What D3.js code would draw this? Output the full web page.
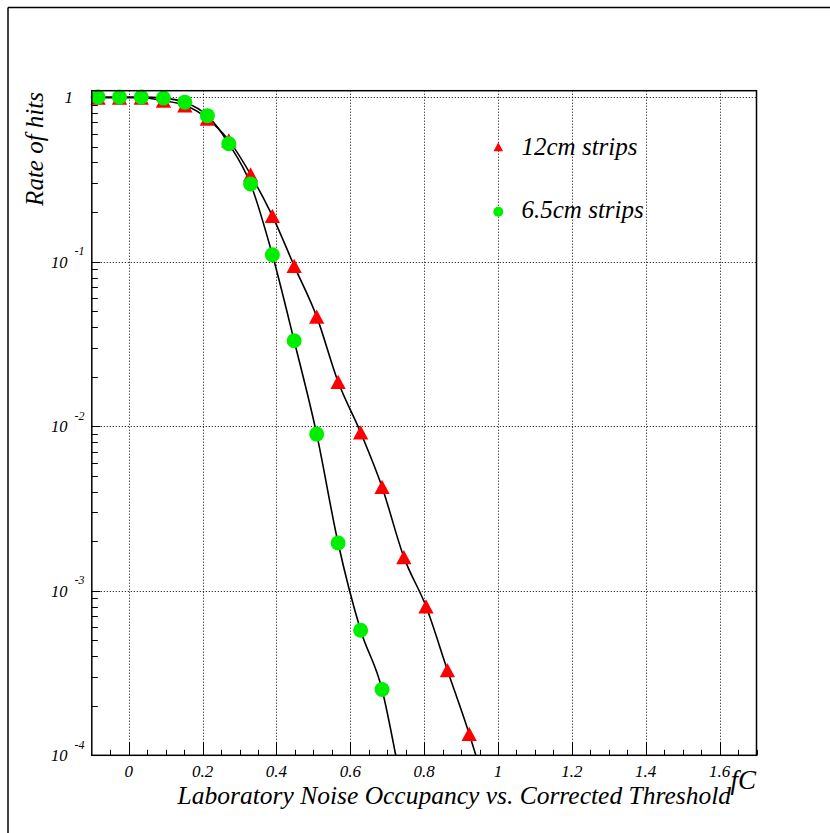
<!DOCTYPE html>
<html>
<head>
<meta charset="utf-8">
<script src="https://cdn.jsdelivr.net/npm/d3@7"></script>
<style>
  html, body { margin: 0; padding: 0; background: #fff; }
  svg { display: block; }
  text { font-family: "Liberation Serif", "DejaVu Serif", serif; font-style: italic; fill: #000; }
</style>
</head>
<body>
<svg id="chart" width="830" height="833"></svg>
<script>
// ---- data ----
const thresholds12 = [-0.083, -0.025, 0.034, 0.094, 0.152, 0.213, 0.271, 0.330, 0.389, 0.448, 0.509, 0.567, 0.628, 0.686, 0.745, 0.805, 0.863, 0.922];
const rate12 = [0.99, 0.99, 0.99, 0.95, 0.89, 0.74, 0.545, 0.338, 0.1895, 0.0942, 0.0463, 0.0186, 0.00916, 0.00427, 0.0016, 0.000804, 0.000329, 0.000135];
const thresholds65 = [-0.083, -0.025, 0.034, 0.094, 0.152, 0.213, 0.271, 0.330, 0.389, 0.448, 0.509, 0.567, 0.628, 0.686];
const rate65 = [1.0, 1.0, 1.0, 0.985, 0.93, 0.77, 0.52, 0.296, 0.110, 0.033, 0.00895, 0.00195, 0.000575, 0.000251];
// fit curve end points (where the drawn curves leave the frame)
const fitStart12 = [-0.1, 1.0], fitEnd12 = [0.940, 1e-4];
const fitStart65 = [-0.1, 1.0], fitEnd65 = [0.723, 1e-4];
const seriesNames = ["12cm strips", "6.5cm strips"];
const xTickValues = [0, 0.2, 0.4, 0.6, 0.8, 1, 1.2, 1.4, 1.6];
const xTickLabels = ["0", "0.2", "0.4", "0.6", "0.8", "1", "1.2", "1.4", "1.6"];
const yDecades = [1, 1e-1, 1e-2, 1e-3, 1e-4];
const yExponents = ["", "-1", "-2", "-3", "-4"];
const xTitle = "Laboratory Noise Occupancy vs. Corrected Threshold";
const xUnit = "fC";
const yTitle = "Rate of hits";

// ---- layout ----
const L = 91.8, R = 756.5, T = 90.7, B = 755.3;
const svg = d3.select("#chart");
const x = d3.scaleLinear().domain([-0.1, 1.7]).range([L, R]);
const y = d3.scaleLog().domain([1e-4, 1.092]).range([B, T]);

// canvas border (top & left visible)
svg.append("line").attr("x1", 8).attr("x2", 830).attr("y1", 7.5).attr("y2", 7.5).attr("stroke", "#000").attr("stroke-width", 1.5);
svg.append("line").attr("x1", 8).attr("x2", 8).attr("y1", 7.5).attr("y2", 833).attr("stroke", "#000").attr("stroke-width", 1.5);

// grid
const grid = svg.append("g").attr("stroke", "#000").attr("stroke-width", 1).attr("stroke-dasharray", "1,2");
xTickValues.forEach(v => {
  grid.append("line").attr("x1", Math.round(x(v)) + 0.5).attr("x2", Math.round(x(v)) + 0.5).attr("y1", T).attr("y2", B);
});
yDecades.slice(0, 4).forEach(v => {
  grid.append("line").attr("x1", L).attr("x2", R).attr("y1", Math.round(y(v)) + 0.5).attr("y2", Math.round(y(v)) + 0.5);
});

// x ticks (inside, upward)
const ticksG = svg.append("g").attr("stroke", "#000").attr("stroke-width", 1);
const xMinor = d3.range(-0.05, 1.70001, 0.05);
xMinor.forEach(v => {
  const isMajor = xTickValues.some(t => Math.abs(t - v) < 1e-6);
  const px = Math.round(x(v)) + 0.5;
  ticksG.append("line").attr("x1", px).attr("x2", px).attr("y1", B).attr("y2", B - (isMajor ? 12.7 : 5.5));
});
// y ticks (inside, rightward)
yDecades.slice(1).forEach(d => {
  for (let k = 2; k <= 9; k++) {
    const v = d * k;
    if (v > 1.092) continue;
    const py = Math.round(y(v)) + 0.5;
    ticksG.append("line").attr("x1", L).attr("x2", L + 6).attr("y1", py).attr("y2", py);
  }
});
yDecades.forEach(v => {
  const py = Math.round(y(v)) + 0.5;
  ticksG.append("line").attr("x1", L).attr("x2", L + 8.5).attr("y1", py).attr("y2", py);
});

// curves
const line = d3.line().x(d => x(d[0])).y(d => y(d[1])).curve(d3.curveMonotoneX);
svg.append("clipPath").attr("id", "clip").append("rect").attr("x", L).attr("y", T).attr("width", R - L).attr("height", B - T);
const pts12 = [fitStart12].concat(thresholds12.map((t, i) => [t, rate12[i]])).concat([fitEnd12]);
const pts65 = [fitStart65].concat(thresholds65.map((t, i) => [t, rate65[i]])).concat([fitEnd65]);
svg.append("path").attr("d", line(pts12)).attr("fill", "none").attr("stroke", "#000").attr("stroke-width", 1.6).attr("clip-path", "url(#clip)");
svg.append("path").attr("d", line(pts65)).attr("fill", "none").attr("stroke", "#000").attr("stroke-width", 1.6).attr("clip-path", "url(#clip)");

// markers
function tri(cx, cy, w, h) {
  return `M${cx - w / 2},${cy + h / 2}L${cx + w / 2},${cy + h / 2}L${cx},${cy - h / 2}Z`;
}
svg.append("g").selectAll("path").data(thresholds12).join("path")
  .attr("d", (t, i) => tri(x(t), y(rate12[i]), 15.3, 14.3))
  .attr("fill", "#ff0000");
svg.append("g").selectAll("circle").data(thresholds65).join("circle")
  .attr("cx", t => x(t)).attr("cy", (t, i) => y(rate65[i])).attr("r", 7.5)
  .attr("fill", "#00ee00");

// frame
svg.append("rect").attr("x", L).attr("y", T).attr("width", R - L).attr("height", B - T)
  .attr("fill", "none").attr("stroke", "#000").attr("stroke-width", 1.5);

// x tick labels
svg.append("g").selectAll("text").data(xTickValues).join("text")
  .attr("x", v => x(v)).attr("y", 777).attr("text-anchor", "middle")
  .attr("font-size", 17).text((v, i) => xTickLabels[i]);

// y tick labels
yDecades.forEach((v, i) => {
  const py = y(v);
  if (yExponents[i] === "") {
    svg.append("text").attr("x", 73).attr("y", py + 6).attr("text-anchor", "end").attr("font-size", 17).text("1");
  } else {
    svg.append("text").attr("x", 67.5).attr("y", py + 6).attr("text-anchor", "end").attr("font-size", 16.5).text("10");
    svg.append("text").attr("x", 74.5).attr("y", py - 6.5).attr("text-anchor", "start").attr("font-size", 12).text(yExponents[i]);
  }
});

// titles
svg.append("text").attr("x", 731).attr("y", 804).attr("text-anchor", "end").attr("font-size", 25.5).text(xTitle);
svg.append("text").attr("x", 756).attr("y", 789).attr("text-anchor", "end").attr("font-size", 27).text(xUnit);
svg.append("text").attr("transform", "translate(43,92) rotate(-90)").attr("text-anchor", "end").attr("font-size", 25).text(yTitle);

// legend
svg.append("path").attr("d", tri(498.3, 146.7, 9.5, 9)).attr("fill", "#ff0000");
svg.append("circle").attr("cx", 498.3).attr("cy", 211.7).attr("r", 5).attr("fill", "#00ee00");
svg.append("text").attr("x", 521.5).attr("y", 155).attr("font-size", 25).text(seriesNames[0]);
svg.append("text").attr("x", 521.5).attr("y", 218).attr("font-size", 25).text(seriesNames[1]);
</script>
</body>
</html>
